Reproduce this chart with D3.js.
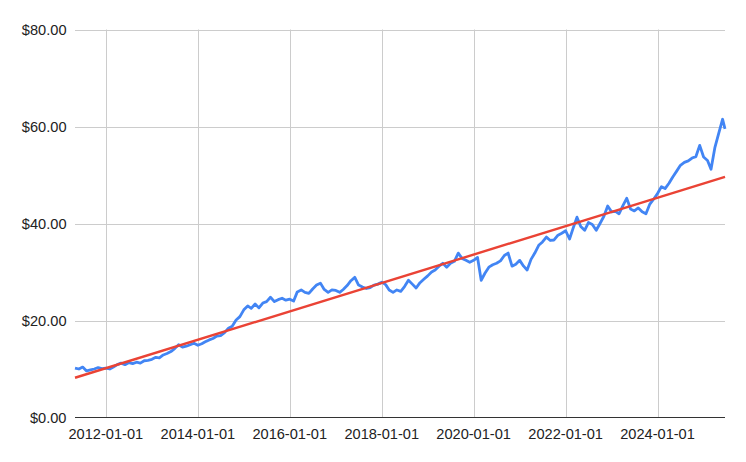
<!DOCTYPE html>
<html>
<head>
<meta charset="utf-8">
<script src="https://cdn.jsdelivr.net/npm/d3@7"></script>
<style>
  html, body { margin: 0; padding: 0; background: #fff; }
  svg { display: block; }
  text { font-family: Arial, "Liberation Sans", sans-serif; }
</style>
</head>
<body>
<svg id="chart" width="746" height="462"></svg>
<script>
// ---- data (monthly) ----
const startMonth = "2011-05-01";
const priceValues = [
  10.2, 10.0, 10.4, 9.6, 9.8, 10.0, 10.3, 10.1,
  10.2, 10.0, 10.4, 10.9, 11.2, 10.9, 11.3, 11.1, 11.4, 11.2, 11.7, 11.8,
  12.0, 12.4, 12.3, 12.9, 13.2, 13.6, 14.2, 15.0, 14.5, 14.7, 15.0, 15.3,
  14.9, 15.2, 15.6, 16.0, 16.3, 16.8, 16.9, 17.5, 18.4, 18.8, 20.1, 20.8,
  22.2, 23.0, 22.5, 23.4, 22.6, 23.6, 23.9, 24.8, 23.9, 24.3, 24.6, 24.2,
  24.4, 24.0, 25.9, 26.3, 25.8, 25.6, 26.5, 27.3, 27.7, 26.4, 25.8, 26.3,
  26.2, 25.8, 26.4, 27.2, 28.2, 28.9, 27.3, 26.9, 26.6, 26.8, 27.3, 27.5,
  27.9, 27.4, 26.3, 25.8, 26.3, 26.0, 27.0, 28.3, 27.5, 26.7, 27.8, 28.5,
  29.2, 30.0, 30.4, 31.2, 31.8, 31.0, 31.8, 32.2, 33.9, 32.8, 32.4, 32.0,
  32.4, 33.0, 28.3, 29.8, 31.0, 31.5, 31.8, 32.3, 33.4, 33.9, 31.2, 31.6,
  32.4, 31.2, 30.4, 32.6, 33.9, 35.5, 36.2, 37.2, 36.5, 36.6, 37.6, 38.0,
  38.5, 36.8, 39.0, 41.3, 39.4, 38.6, 40.2, 39.8, 38.6, 40.0, 41.5, 43.6,
  42.4, 42.5, 42.0, 43.7, 45.2, 43.0, 42.6, 43.2, 42.4, 42.0, 44.0, 45.0,
  46.2, 47.6, 47.2, 48.3, 49.6, 50.8, 52.0, 52.6, 52.9, 53.5, 53.8, 56.1,
  53.7, 53.0, 51.2, 55.7, 58.6, 61.5
];
const lastDate = "2025-06-20";
const lastValue = 59.5;

const trendDates = ["2011-05-01", "2025-06-20"];
const trendValues = [8.2, 49.6];

const yTicks = [0, 20, 40, 60, 80];
const xTickLabels = ["2012-01-01", "2014-01-01", "2016-01-01", "2018-01-01", "2020-01-01", "2022-01-01", "2024-01-01"];

// ---- build series ----
const parse = d3.utcParse("%Y-%m-%d");
const start = parse(startMonth);
const series = priceValues.map((v, i) => ({ date: d3.utcMonth.offset(start, i), value: v }));
series.push({ date: parse(lastDate), value: lastValue });
const trend = trendDates.map((d, i) => ({ date: parse(d), value: trendValues[i] }));

// ---- layout ----
const svg = d3.select("#chart");
const plotL = 75, plotR = 725, plotT = 29.5, plotB = 417.5;

const x = d3.scaleUtc().domain([parse("2011-05-01"), parse("2025-06-20")]).range([plotL, plotR]);
const y = d3.scaleLinear().domain([0, 80]).range([plotB, plotT]);

// horizontal gridlines
svg.append("g").selectAll("line").data(yTicks.filter(t => t > 0)).join("line")
  .attr("x1", plotL).attr("x2", plotR)
  .attr("y1", d => Math.round(y(d)) + 0.5).attr("y2", d => Math.round(y(d)) + 0.5)
  .attr("stroke", "#cccccc").attr("stroke-width", 1);

// vertical gridlines
svg.append("g").selectAll("line").data(xTickLabels).join("line")
  .attr("x1", d => Math.round(x(parse(d))) + 0.5).attr("x2", d => Math.round(x(parse(d))) + 0.5)
  .attr("y1", plotT).attr("y2", plotB)
  .attr("stroke", "#cccccc").attr("stroke-width", 1);

// y labels
const fmt = d3.format("$,.2f");
svg.append("g").selectAll("text").data(yTicks).join("text")
  .attr("x", 66.5).attr("y", d => y(d)).attr("dy", "0.35em")
  .attr("text-anchor", "end").attr("font-size", 14.6).attr("fill", "#222")
  .text(d => fmt(d));

// x labels
svg.append("g").selectAll("text").data(xTickLabels).join("text")
  .attr("x", d => x(parse(d))).attr("y", 439)
  .attr("text-anchor", "middle").attr("font-size", 14.6).attr("fill", "#222")
  .text(d => d);

// baseline
svg.append("line")
  .attr("x1", plotL).attr("x2", plotR).attr("y1", plotB).attr("y2", plotB)
  .attr("stroke", "#333333").attr("stroke-width", 1);

// price line
const line = d3.line().x(d => x(d.date)).y(d => y(d.value));
svg.append("path").datum(series)
  .attr("d", line).attr("fill", "none")
  .attr("stroke", "#4285f4").attr("stroke-width", 2.8)
  .attr("stroke-linejoin", "round");

// trend line
svg.append("path").datum(trend)
  .attr("d", line).attr("fill", "none")
  .attr("stroke", "#ea4335").attr("stroke-width", 2.4);
</script>
</body>
</html>
